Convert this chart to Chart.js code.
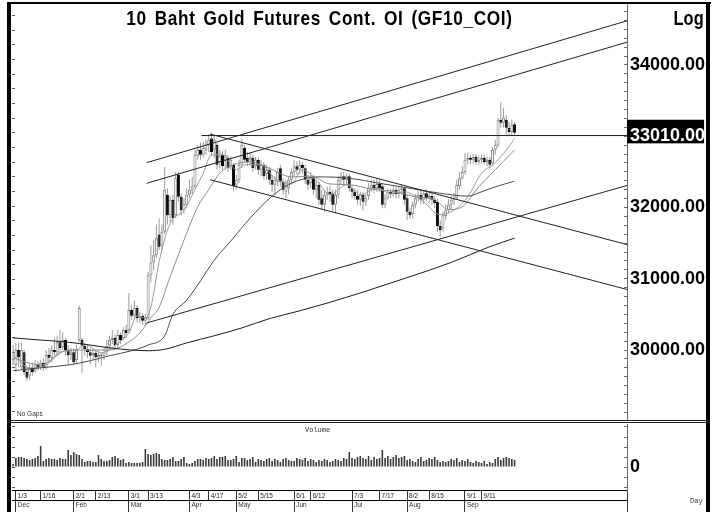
<!DOCTYPE html>
<html><head><meta charset="utf-8"><title>10 Baht Gold Futures Cont. OI (GF10_COI)</title>
<script src="https://cdn.jsdelivr.net/npm/chart.js@4.4.1/dist/chart.umd.min.js"></script>
<style>
html,body{margin:0;padding:0;background:#fff;}
#wrap{position:relative;width:720px;height:512px;overflow:hidden;background:#fff;}
#wrap canvas{position:absolute;left:0;}
.ln{position:absolute;background:#000;z-index:3;}
.t{position:absolute;white-space:nowrap;color:#000;z-index:4;}
</style></head><body>
<div id="wrap">
 <canvas id="priceChart" width="720" height="421" style="top:0;width:720px;height:421px"></canvas>
 <canvas id="volChart" width="720" height="91" style="top:421px;width:720px;height:91px"></canvas>
 <div class="ln" style="left:7px;top:2px;width:704px;height:2px"></div>
 <div class="ln" style="left:7px;top:2px;width:4px;height:510px"></div>
 <div class="ln" style="left:706px;top:2px;width:4px;height:510px"></div>
 <div class="ln" style="left:7px;top:420px;width:703px;height:1px;background:#222"></div>
 <div class="ln" style="left:7px;top:422px;width:703px;height:1px;background:#222"></div>
 <div class="t" id="title" style="left:12px;width:615px;top:7px;text-align:center;word-spacing:3px;letter-spacing:0.8px">10 Baht Gold Futures Cont. OI (GF10_COI)</div>
 <div class="t" id="logLbl" style="right:16px;top:8px">Log</div>
 <div class="t" id="noGaps" style="left:17px;top:410px;color:#333">No Gaps</div>
 <div class="t" style="left:305px;top:426px;font:7px 'Liberation Mono',monospace;color:#333">Volume</div>
 <div class="t" style="left:690px;top:497px;font:7px 'Liberation Mono',monospace;color:#333">Day</div>
</div>
<script>
// ---------- data ----------
const dates = ["12/30",
"1/3","1/4","1/5","1/6","1/9","1/10","1/11","1/12","1/13","1/16","1/17","1/18","1/19","1/20","1/23","1/24","1/25","1/26","1/27","1/30","1/31",
"2/1","2/2","2/3","2/6","2/7","2/8","2/9","2/10","2/13","2/14","2/15","2/16","2/17","2/20","2/21","2/22","2/23","2/24","2/27","2/28",
"3/1","3/2","3/3","3/7","3/8","3/9","3/10","3/13","3/14","3/15","3/16","3/17","3/20","3/21","3/22","3/23","3/24","3/27","3/28","3/29","3/30","3/31",
"4/3","4/4","4/5","4/7","4/10","4/11","4/12","4/17","4/18","4/19","4/20","4/21","4/24","4/25","4/26","4/27","4/28",
"5/2","5/3","5/5","5/8","5/9","5/10","5/11","5/12","5/15","5/16","5/17","5/18","5/19","5/22","5/23","5/24","5/25","5/26","5/29","5/30","5/31",
"6/1","6/2","6/6","6/7","6/8","6/9","6/12","6/13","6/14","6/15","6/16","6/19","6/20","6/21","6/22","6/23","6/26","6/27","6/28","6/29","6/30",
"7/3","7/4","7/5","7/6","7/7","7/10","7/11","7/12","7/13","7/14","7/17","7/18","7/19","7/20","7/21","7/24","7/25","7/26","7/27","7/31",
"8/2","8/3","8/4","8/7","8/8","8/9","8/10","8/11","8/15","8/16","8/17","8/18","8/21","8/22","8/23","8/24","8/25","8/28","8/29","8/30","8/31",
"9/1","9/4","9/5","9/6","9/7","9/8","9/11","9/12","9/13","9/14","9/15","9/18","9/19","9/20","9/21","9/22","9/25","9/26","9/27"];

const openP = [29860,
29790,30000,29760,29970,29690,29640,29750,29710,29800,29760,
29820,29750,29930,29890,30000,29970,30110,30040,30140,30000,
29930,29970,29860,30140,30140,30060,30010,29970,29930,29960,
29900,29930,29920,29970,30060,30140,30170,30070,30210,30170,
30280,30280,30560,30480,30590,30450,30480,30410,30450,31050,
31230,31330,31620,31470,31660,32180,31890,32110,31890,32460,
32150,31960,32040,32180,32250,32300,32720,32810,32740,32810,
32880,32970,32810,32880,32640,32740,32670,32700,32580,32600,
32320,32390,32600,32840,32700,32670,32700,32580,32670,32530,
32600,32470,32530,32390,32320,32360,32550,32360,32220,32270,
32390,32500,32580,32530,32600,32550,32390,32340,32410,32250,
32320,32130,32040,32180,32220,32200,32040,32180,32390,32440,
32390,32440,32270,32220,32160,32110,32180,32080,32160,32270,
32320,32270,32330,32300,32040,32130,32220,32190,32250,32190,
32250,32270,32130,31940,31910,32040,32130,32180,32110,32200,
32130,32160,32110,32080,31740,31710,31880,31960,32040,32110,
32130,32300,32410,32500,32670,32700,32670,32710,32640,32670,
32700,32640,32670,32620,32810,32880,33230,33190,33230,33120,
33060,33170];

const highP = [30070,
30100,30100,30100,30000,29780,29800,29830,29860,29850,29860,
29880,30000,30030,30070,30170,30200,30280,30250,30170,30070,
30030,30030,30070,30620,30170,30100,30070,30030,30010,30000,
29990,29970,30030,30140,30200,30280,30220,30280,30250,30320,
30350,30800,30630,30700,30630,30530,30520,30510,31100,31470,
31540,31760,31850,31760,32570,32270,32160,32180,32500,32500,
32200,32130,32270,32390,32430,32810,32880,32910,32920,32950,
33030,33050,33020,32910,32810,32790,32810,32740,32720,32620,
32460,32670,32950,32880,32780,32770,32740,32710,32710,32670,
32640,32600,32570,32460,32440,32550,32600,32410,32390,32440,
32550,32670,32650,32670,32640,32600,32460,32500,32460,32390,
32360,32250,32250,32290,32300,32250,32250,32440,32500,32500,
32480,32470,32320,32270,32250,32220,32220,32190,32340,32390,
32390,32410,32390,32340,32190,32270,32270,32300,32300,32290,
32330,32300,32180,31990,32080,32190,32230,32250,32250,32260,
32220,32220,32160,32120,31820,31940,32040,32120,32160,32200,
32390,32500,32580,32770,32770,32740,32750,32750,32720,32740,
32740,32710,32710,32850,32950,33260,33480,33400,33300,33200,
33230,33200];

const lowP = [29790,
29690,29760,29720,29650,29570,29580,29640,29670,29710,29720,
29710,29720,29830,29830,29920,29920,29970,30000,29920,29790,
29860,29780,29800,30110,29680,29920,29890,29800,29860,29760,
29830,29780,29860,29920,30010,30080,30030,30030,30080,30140,
30170,30250,30420,30420,30390,30380,30350,30340,30420,30950,
31120,31290,31400,31400,31620,31760,31800,31760,31850,32080,
31890,31910,31990,32130,32190,32270,32670,32670,32700,32740,
32780,32720,32700,32530,32550,32530,32550,32500,32530,32230,
32250,32340,32550,32620,32580,32600,32500,32530,32460,32440,
32390,32390,32320,32220,32180,32300,32300,32180,32130,32190,
32320,32440,32460,32470,32480,32330,32250,32270,32180,32130,
32040,31960,31940,32110,32080,31940,31920,32130,32320,32330,
32330,32220,32130,32110,32040,32020,31960,32020,32110,32220,
32200,32220,32220,31990,31990,32110,32130,32150,32130,32130,
32180,32040,31820,31840,31850,31990,32080,32050,32050,32080,
32060,32040,31990,31660,31590,31660,31820,31920,31960,32040,
32110,32250,32390,32460,32610,32610,32620,32600,32600,32620,
32600,32580,32550,32580,32740,32840,33120,33120,33020,33000,
33000,33000];

const closeP = [29970,
30000,29900,30000,29690,29610,29750,29690,29800,29760,29820,
29750,29930,29890,30000,29970,30110,30030,30140,30000,29930,
29970,29830,30000,30590,30060,30010,29970,29920,29960,29900,
29930,29920,29970,30060,30140,30170,30070,30210,30140,30280,
30240,30560,30480,30590,30450,30480,30410,30450,31050,31230,
31330,31570,31450,31660,32250,31890,32110,31850,32410,32150,
31960,32050,32180,32250,32300,32740,32810,32740,32840,32880,
32950,32780,32950,32600,32720,32580,32740,32550,32670,32300,
32390,32600,32880,32670,32640,32710,32550,32670,32530,32600,
32440,32530,32390,32320,32390,32500,32360,32250,32320,32390,
32500,32580,32530,32600,32550,32390,32320,32410,32250,32320,
32110,32040,32180,32220,32180,32040,32180,32390,32440,32390,
32440,32270,32220,32160,32110,32180,32080,32130,32270,32320,
32270,32330,32270,32040,32130,32220,32190,32250,32190,32250,
32270,32110,31940,31890,32040,32130,32180,32110,32200,32130,
32160,32110,32060,31740,31680,31890,31960,32040,32110,32130,
32320,32410,32500,32670,32700,32670,32710,32640,32670,32700,
32640,32670,32600,32810,32880,33230,33190,33260,33120,33060,
33160,33050];

const volume = [300,
900,1000,1000,900,800,700,800,900,1100,2100,
600,800,900,800,800,700,900,800,800,1700,
1200,1500,1300,1200,800,500,600,600,500,500,
1200,800,600,600,700,1000,1100,900,700,800,
400,500,400,400,400,400,500,1800,1300,1200,
1300,1400,1300,800,700,700,800,1000,600,600,
800,1000,400,300,400,600,800,800,700,900,
800,900,1100,800,1000,1000,1100,700,700,800,
1100,500,900,900,700,800,1000,500,800,700,
600,800,900,600,800,700,500,800,900,700,
600,600,900,800,700,900,600,800,700,500,
700,600,800,700,500,600,800,700,600,900,
800,1500,900,800,1000,1100,900,800,1100,700,
1000,800,900,1700,900,1100,800,1000,1200,900,
1000,1100,700,800,600,500,800,1000,600,700,
900,800,1000,700,500,600,500,600,800,700,
900,500,700,600,800,500,400,600,500,400,
600,300,500,400,800,1000,700,900,1000,900,800,700];

// moving-average lines (at selected days)
const maShortDates = ["12/30","1/10","1/18","1/25","2/2","2/7","2/15","2/22","3/1","3/7","3/10","3/14","3/17","3/23","3/30","4/5","4/11","4/18","4/24","5/2","5/8","5/16","5/23","5/31","6/7","6/14","6/21","6/29","7/6","7/14","7/21","7/31","8/9","8/21","8/29","9/4","9/11","9/18","9/26","9/27"];
const maShortValues = [29930,29750,29790,29970,30000,30080,29960,30070,30240,30480,30450,30600,31240,31780,31960,32250,32480,32740,32740,32530,32600,32600,32410,32340,32530,32390,32180,32320,32180,32270,32200,32220,32110,31900,31990,32150,32480,32630,32910,32970];
const maFastDates = ["12/30","1/16","1/30","2/9","2/20","3/2","3/8","3/14","3/17","3/23","3/30","4/7","4/17","4/21","4/28","5/10","5/19","5/31","6/12","6/21","6/30","7/12","7/25","8/7","8/17","8/24","8/31","9/8","9/18","9/27"];
const maFastValues = [29890,29790,30000,30000,30000,30140,30240,30450,30600,31030,31540,32010,32250,32480,32600,32640,32550,32430,32440,32330,32320,32260,32220,32150,32110,31970,32010,32290,32530,32810];
const maMidDates = ["12/30","1/16","1/30","2/9","2/20","3/2","3/13","3/21","3/24","3/31","4/10","4/19","4/27","5/10","5/22","5/31","6/15","6/30","7/17","8/3","8/21","9/4","9/11","9/18","9/27"];
const maMidValues = [29710,29750,29790,29850,29920,29990,30070,30200,30500,30700,30970,31260,31530,31850,32160,32340,32430,32410,32340,32270,32200,32160,32220,32290,32370];
const maLongDates = ["12/30","1/16","1/30","2/9","2/20","3/2","3/13","3/21","3/31","4/19","5/5","5/19","6/6","6/21","7/6","7/21","8/9","8/25","9/5","9/14","9/27"];
const maLongValues = [30170,30140,30110,30070,30030,30000,29990,30010,30100,30200,30310,30440,30550,30670,30800,30940,31080,31230,31340,31450,31570];

// trend lines: start position (day number), start value, end value (they run to the right edge)
const trendStart = [48.5, 48.5, 68.4, 71.5, 71.5, 48.5];
const trendStartValue = [32630, 32340, 33010, 33030, 32390, 30380];
const trendEndValue = [34620, 34320, 33010, 31480, 30850, 32310];

// axes
const xMin = -0.4, xMax = 222.8;
const priceMin = 29004, priceMax = 34856;
const priceLabels = [30000, 31000, 32000, 34000];
const lastMarked = 33010;
const dayTickDates = ["1/3","1/16","2/1","2/13","3/1","3/13","4/3","4/17","5/2","5/15","6/1","6/12","7/3","7/17","8/2","8/15","9/1","9/11"];
const monthTickDates = ["1/3","2/1","3/1","4/3","5/2","6/1","7/3","8/2","9/1"];
const monthTickLabels = ["Dec","Feb","Mar","Apr","May","Jun","Jul","Aug","Sep"];

// ---------- fonts ----------
function fontAvailable(name){
  const c = document.createElement('canvas').getContext('2d');
  const s = '0123456789 Baht Gold WMmw';
  c.font = 'bold 40px monospace'; const a = c.measureText(s).width;
  c.font = 'bold 40px "' + name + '", monospace'; const b = c.measureText(s).width;
  c.font = 'bold 40px serif'; const d = c.measureText(s).width;
  c.font = 'bold 40px "' + name + '", serif'; const e = c.measureText(s).width;
  return a !== b || d !== e;
}
const hasNarrow = fontAvailable('Liberation Sans Narrow');
const AXF = hasNarrow ? {family:"'Liberation Sans Narrow'", size:21, weight:'bold'} : {family:"'Liberation Sans', Arial, sans-serif", size:18, weight:'bold'};
const SMF = hasNarrow ? {family:"'Liberation Sans Narrow'", size:7.5} : {family:"'Liberation Sans', Arial, sans-serif", size:6.5};
const titleCss = hasNarrow ? "bold 21px/21px 'Liberation Sans Narrow', sans-serif" : "bold 21px/21px 'Liberation Sans', Arial, sans-serif";
const logCss = hasNarrow ? "bold 20px/20px 'Liberation Sans Narrow', sans-serif" : "bold 20px/20px 'Liberation Sans', Arial, sans-serif";
document.getElementById('title').style.font = titleCss;
document.getElementById('logLbl').style.font = logCss;
if (!hasNarrow) {
  const t = document.getElementById('title'); t.style.transform = 'scaleX(0.82)'; t.style.transformOrigin = 'center';
  const l = document.getElementById('logLbl'); l.style.transform = 'scaleX(0.82)'; l.style.transformOrigin = 'right';
}
document.getElementById('noGaps').style.font = hasNarrow ? "7px 'Liberation Sans Narrow'" : "6.5px 'Liberation Sans', Arial";

// ---------- helpers ----------
const pos = d => dates.indexOf(d);
const xy = (ds, vs) => ds.map((d, i) => ({x: pos(d), y: vs[i]}));
const isUp = i => closeP[i] >= openP[i];
const lineDs = (data, color, width, order) => ({type:'line', data, borderColor:color, borderWidth:width, pointRadius:0, fill:false, cubicInterpolationMode:'monotone', order});
const noPad = s => { s.paddingTop = 0; s.paddingBottom = 0; s.paddingLeft = 0; s.paddingRight = 0; };

const datasets = [
  {type:'bar', label:'wick', data: dates.map((d, i) => ({x: i, y: [lowP[i], highP[i]]})),
   backgroundColor:'#9a9a9a', borderWidth:0, barThickness:1, grouped:false, inflateAmount:0, order:3},
  {type:'bar', label:'body', data: dates.map((d, i) => ({x: i, y: [openP[i], closeP[i]]})),
   backgroundColor: c => isUp(c.dataIndex) ? '#ffffff' : '#000000',
   borderColor: c => isUp(c.dataIndex) ? '#858585' : '#000000',
   borderWidth:1, borderSkipped:false, barThickness:3, minBarLength:1, grouped:false, inflateAmount:0, order:2},
  lineDs(xy(maLongDates, maLongValues), '#1a1a1a', 1, 1),
  lineDs(xy(maMidDates, maMidValues), '#4a4a4a', 1, 1),
  lineDs(xy(maFastDates, maFastValues), '#8c8c8c', 1, 1),
  lineDs(xy(maShortDates, maShortValues), '#9c9c9c', 1, 1)
];
trendStart.forEach((s, k) => {
  const ds = lineDs([{x: s, y: trendStartValue[k]}, {x: xMax, y: trendEndValue[k]}], '#222', 1, 0);
  ds.cubicInterpolationMode = 'default'; ds.tension = 0;
  datasets.push(ds);
});

Chart.defaults.font.family = "'Liberation Sans', Arial, sans-serif";

// ---------- price chart ----------
new Chart(document.getElementById('priceChart'), {
  type:'bar',
  data:{datasets},
  options:{
    responsive:false, animation:false, devicePixelRatio:1, events:[],
    layout:{padding:{left:12, top:4, right:0, bottom:0}},
    plugins:{legend:{display:false}, tooltip:{enabled:false}},
    scales:{
      x:{type:'linear', min:xMin, max:xMax, offset:false, display:false, grid:{offset:false}, afterFit: noPad},
      y:{type:'linear', position:'right', min:priceMin, max:priceMax,
        afterFit: s => { s.width = 93; noPad(s); },
        afterBuildTicks: s => {
          const t = [];
          for (let v = 29125; v <= priceMax; v += 125) t.push({value: v});
          t.push({value: lastMarked});
          t.sort((a, b) => a.value - b.value);
          s.ticks = t;
        },
        grid:{drawOnChartArea:false, drawTicks:true, tickLength:-3, color:'#6a6a6a'},
        border:{display:true, color:'#6a6a6a', width:1},
        ticks:{autoSkip:false, crossAlign:'near', padding:6, font:AXF,
          color: c => (c.tick && c.tick.value === lastMarked) ? '#ffffff' : '#000000',
          showLabelBackdrop: c => !!(c.tick && c.tick.value === lastMarked),
          backdropColor:'#000000', backdropPadding:{top:5, bottom:-3, left:3, right:-1},
          callback: v => (priceLabels.includes(v) || v === lastMarked) ? v.toFixed(2) : ''}
      },
      yl:{type:'linear', position:'left', min:priceMin, max:priceMax,
        afterFit: s => { s.width = 0; noPad(s); },
        afterBuildTicks: s => {
          const t = [];
          for (let v = 32021; v >= priceMin; v -= 205.8) t.push({value: v});
          for (let v = 32021 + 205.8; v <= priceMax; v += 205.8) t.push({value: v});
          t.sort((a, b) => a.value - b.value);
          s.ticks = t;
        },
        grid:{drawOnChartArea:false, drawTicks:true, tickLength:-3, color:'#555'},
        border:{display:false}, ticks:{display:false}}
    }
  }
});

// ---------- volume chart ----------
new Chart(document.getElementById('volChart'), {
  type:'bar',
  data:{datasets:[{label:'Volume', data: dates.map((d, i) => ({x: i, y: volume[i]})),
    backgroundColor:'#3a3a3a', borderWidth:0, barThickness:1.6, inflateAmount:0, grouped:false}]},
  options:{
    responsive:false, animation:false, devicePixelRatio:1, events:[],
    layout:{padding:{left:12, top:3, right:0, bottom:0}},
    plugins:{legend:{display:false}, tooltip:{enabled:false}},
    scales:{
      x:{type:'linear', position:'bottom', weight:0, min:xMin, max:xMax, offset:false,
        afterFit: s => { s.height = 10; noPad(s); },
        afterBuildTicks: s => { s.ticks = dayTickDates.map(d => ({value: pos(d)})).concat([{value: xMax}]); },
        grid:{drawOnChartArea:false, drawTicks:true, tickLength:10, color:'#333', offset:false},
        border:{display:true, color:'#000', width:1},
        ticks:{autoSkip:false, maxRotation:0, minRotation:0, align:'start', labelOffset:2, padding:-8,
          font:SMF, color:'#222', callback: (v, i) => i < dayTickDates.length ? dayTickDates[i] : ''}
      },
      x2:{type:'linear', position:'bottom', weight:1, min:xMin, max:xMax, offset:false,
        afterFit: s => { s.height = 12; noPad(s); },
        afterBuildTicks: s => { s.ticks = monthTickDates.map(d => ({value: pos(d)})).concat([{value: xMax}]); },
        grid:{drawOnChartArea:false, drawTicks:true, tickLength:12, color:'#333', offset:false},
        border:{display:true, color:'#000', width:1},
        ticks:{autoSkip:false, maxRotation:0, minRotation:0, align:'start', labelOffset:2, padding:-11,
          font:SMF, color:'#333', callback: (v, i) => i < monthTickLabels.length ? monthTickLabels[i] : ''}
      },
      y:{type:'linear', position:'right', min:-2300, max:4300,
        afterFit: s => { s.width = 93; noPad(s); },
        afterBuildTicks: s => { s.ticks = [-2000,-1000,0,1000,2000,3000,4000].map(v => ({value: v})); },
        grid:{drawOnChartArea:false, drawTicks:true, tickLength:-3, color:'#6a6a6a'},
        border:{display:true, color:'#6a6a6a', width:1},
        ticks:{autoSkip:false, crossAlign:'near', padding:6, font:AXF, color:'#000', callback: v => v === 0 ? '0' : ''}
      },
      yl:{type:'linear', position:'left', min:-2300, max:4300,
        afterFit: s => { s.width = 0; noPad(s); },
        afterBuildTicks: s => { s.ticks = [-2000,-1000,0,1000,2000,3000,4000].map(v => ({value: v})); },
        grid:{drawOnChartArea:false, drawTicks:true, tickLength:-3, color:'#555'},
        border:{display:false}, ticks:{display:false}}
    }
  }
});
</script>
</body></html>
